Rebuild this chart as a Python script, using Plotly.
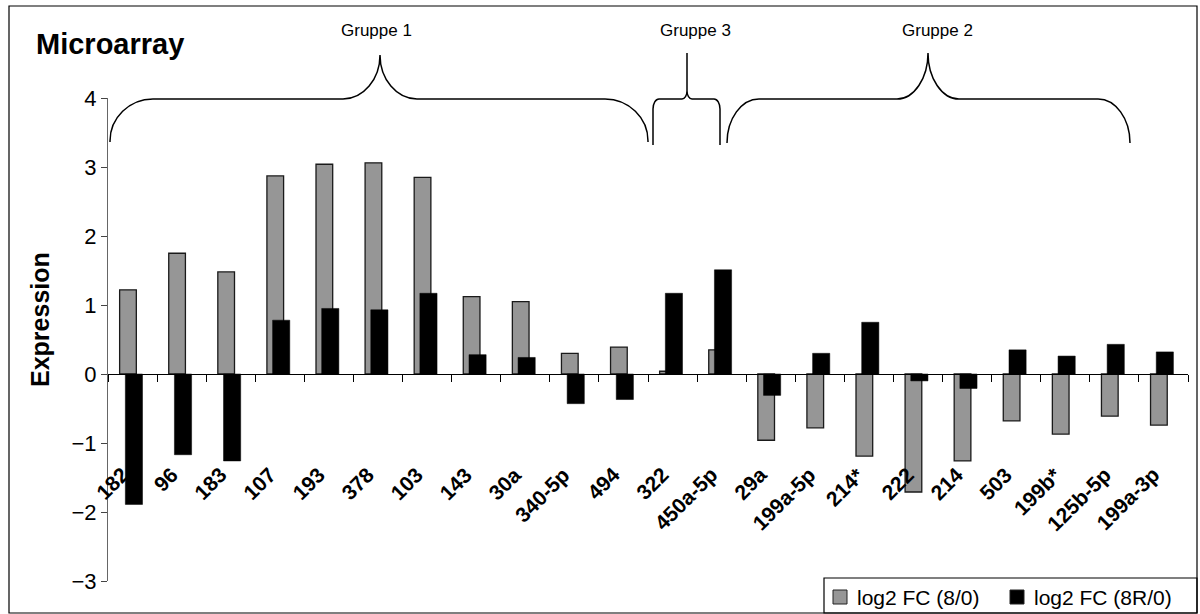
import plotly.graph_objects as go

# ---------------- data ----------------
categories = ["182", "96", "183", "107", "193", "378", "103", "143", "30a", "340-5p", "494",
              "322", "450a-5p",
              "29a", "199a-5p", "214*", "222", "214", "503", "199b*", "125b-5p", "199a-3p"]
fc_8_0 = [1.22, 1.75, 1.48, 2.87, 3.04, 3.06, 2.85, 1.12, 1.05, 0.30, 0.39,
          0.04, 0.35,
          -0.96, -0.78, -1.19, -1.71, -1.26, -0.68, -0.87, -0.61, -0.74]
fc_8R_0 = [-1.89, -1.17, -1.26, 0.78, 0.95, 0.93, 1.17, 0.28, 0.24, -0.43, -0.37,
           1.17, 1.51,
           -0.31, 0.30, 0.75, -0.10, -0.21, 0.35, 0.26, 0.43, 0.32]
series_names = ["log2 FC (8/0)", "log2 FC (8R/0)"]
y_ticks = [-3, -2, -1, 0, 1, 2, 3, 4]
groups = [("Gruppe 1", 0, 10), ("Gruppe 3", 11, 12), ("Gruppe 2", 13, 21)]

# ---------------- layout geometry ----------------
W, H = 1200, 614
ML, MR, MT, MB = 108, 12, 98, 33
PW = W - ML - MR
PH = H - MT - MB
FONT = "Liberation Sans, Arial, sans-serif"
GRAY = "#969696"


def px(x):
    return (x - ML) / PW


def py(y):
    return (H - MB - y) / PH


fig = go.Figure()
fig.add_trace(go.Bar(x=categories, y=fc_8_0, name=series_names[0], width=0.34, offset=-0.263,
                     marker=dict(color=GRAY, line=dict(color="#1a1a1a", width=1.3))))
fig.add_trace(go.Bar(x=categories, y=fc_8R_0, name=series_names[1], width=0.35, offset=-0.147,
                     marker=dict(color="#000000", line=dict(color="#000000", width=0.5))))

shapes = []
annotations = []


def brace(x0, x1, xm, y_end, y_flat, y_peak, rxe, rye, rxp, ryp):
    k = 0.55
    d = f"M {px(x0)},{py(y_end)} "
    d += f"L {px(x0)},{py(y_flat + rye)} "
    d += (f"C {px(x0)},{py(y_flat + rye * (1 - k))} {px(x0 + rxe * (1 - k))},{py(y_flat)} "
          f"{px(x0 + rxe)},{py(y_flat)} ")
    d += f"L {px(xm - rxp)},{py(y_flat)} "
    d += (f"C {px(xm - rxp * (1 - k))},{py(y_flat)} {px(xm)},{py(y_flat - ryp * (1 - k))} "
          f"{px(xm)},{py(y_flat - ryp)} ")
    d += f"L {px(xm)},{py(y_peak)} "
    d += f"M {px(xm)},{py(y_flat - ryp)} "
    d += (f"C {px(xm)},{py(y_flat - ryp * (1 - k))} {px(xm + rxp * (1 - k))},{py(y_flat)} "
          f"{px(xm + rxp)},{py(y_flat)} ")
    d += f"L {px(x1 - rxe)},{py(y_flat)} "
    d += (f"C {px(x1 - rxe * (1 - k))},{py(y_flat)} {px(x1)},{py(y_flat + rye * (1 - k))} "
          f"{px(x1)},{py(y_flat + rye)} ")
    d += f"L {px(x1)},{py(y_end)}"
    return dict(type="path", path=d, xref="paper", yref="paper",
                line=dict(color="#000000", width=1.5))


shapes.append(brace(110, 648, 380, 142, 99, 55, 43, 42, 37, 44))
shapes.append(brace(653, 720, 687, 145, 99, 53, 6, 10, 5, 8))
shapes.append(brace(727, 1130, 928, 143, 99, 53, 32, 44, 31, 46))

group_label_x = [376, 695, 937]
for (name, i0, i1), gx in zip(groups, group_label_x):
    annotations.append(dict(text=name, x=px(gx), y=py(31), xref="paper", yref="paper",
                            showarrow=False, xanchor="center", yanchor="middle",
                            font=dict(family=FONT, size=17, color="#000")))

# outer border
shapes.append(dict(type="rect", xref="paper", yref="paper", x0=px(9), x1=px(1197),
                   y0=py(613), y1=py(6), line=dict(color="#000", width=1.2)))
# legend box (manual)
shapes.append(dict(type="rect", xref="paper", yref="paper", x0=px(824), x1=px(1197),
                   y0=py(613), y1=py(578), line=dict(color="#000", width=1.2)))
leg_items = [(833, 855, GRAY), (1010, 1032, "#000000")]
for (sx, tx, col), nm in zip(leg_items, series_names):
    shapes.append(dict(type="rect", xref="paper", yref="paper", x0=px(sx), x1=px(sx + 14),
                       y0=py(604), y1=py(590), fillcolor=col,
                       line=dict(color="#222", width=1)))
    annotations.append(dict(text=nm, x=px(tx), y=py(597), xref="paper", yref="paper",
                            showarrow=False, xanchor="left", yanchor="middle",
                            font=dict(family=FONT, size=21, color="#000")))

# title and axis title
annotations.append(dict(text="<b>Microarray</b>", x=px(34), y=py(44), xref="paper", yref="paper",
                        showarrow=False, xanchor="left", yanchor="middle",
                        font=dict(family=FONT, size=29, color="#000")))
annotations.append(dict(text="<b>Expression</b>", x=px(40), y=py(320), xref="paper", yref="paper",
                        showarrow=False, xanchor="center", yanchor="middle", textangle=-90,
                        font=dict(family=FONT, size=25, color="#000")))

# rotated category labels (placed by category index on the category axis)
for i, c in enumerate(categories):
    annotations.append(dict(text=f"<b>{c}</b>", x=i, y=-1.25, xref="x", yref="y",
                            showarrow=False, xanchor="right", yanchor="top", textangle=-45,
                            xshift=3,
                            font=dict(family=FONT, size=21, color="#000")))

fig.update_layout(
    width=W, height=H,
    margin=dict(l=ML, r=MR, t=MT, b=MB),
    paper_bgcolor="#ffffff", plot_bgcolor="#ffffff",
    barmode="overlay", showlegend=False,
    shapes=shapes, annotations=annotations,
    font=dict(family=FONT, color="#000"),
    xaxis=dict(type="category", categoryorder="array", categoryarray=categories,
               range=[-0.5, len(categories) - 0.5],
               showgrid=False, zeroline=False, showticklabels=False,
               showline=True, linecolor="#000", linewidth=1.2,
               ticks="outside", tickson="boundaries", ticklen=7, tickcolor="#000", tickwidth=1.2,
               anchor="free", position=3 / 7),
    yaxis=dict(range=[-3, 4], tickvals=y_ticks, showgrid=False, zeroline=False,
               showline=True, linecolor="#666", linewidth=1.2,
               ticks="outside", ticklen=6, tickcolor="#444", tickwidth=1.2,
               tickfont=dict(family=FONT, size=22, color="#000")),
)

fig.write_html("out.html")
